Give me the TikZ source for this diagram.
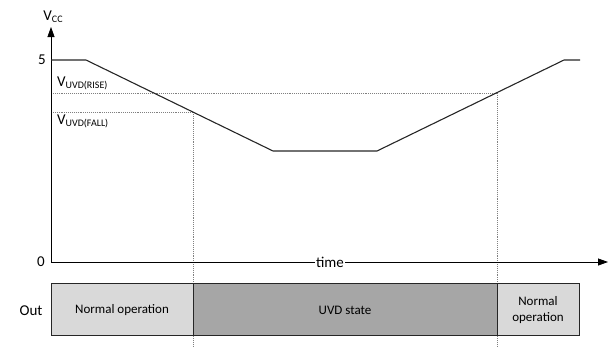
\documentclass[tikz,border=0pt]{standalone}
\usepackage{fontspec}
\setmainfont{Carlito}
\usetikzlibrary{arrows.meta}
\definecolor{lightbox}{HTML}{D9D9D9}
\definecolor{darkbox}{HTML}{A6A6A6}
\definecolor{guide}{HTML}{808080}
\begin{document}
\begin{tikzpicture}[x=1pt,y=-1pt,
		guideline/.style={guide,densely dotted,line width=0.9pt},
		outbox/.style={draw=black!85,line width=0.8pt},
		axis/.style={line width=0.8pt,-{Triangle[length=10pt,width=7pt]}}]
			\useasboundingbox (0,0) rectangle (611,346);
			
			% threshold guides
			\draw[guideline] (51,93) -- (497,93);
			\draw[guideline] (51,112) -- (193,112);
			\draw[guideline] (193,112) -- (193,346);
			\draw[guideline] (497,93) -- (497,346);
			
			% axes
			\draw[axis] (51,262) -- (51,27);
			\draw[axis] (51,262) -- (608,262);
			\node[fill=white,inner sep=1pt,font=\fontsize{15}{15}\selectfont] (time) at (330,262) {time};
			\node[anchor=south,inner sep=1pt] (vcc) at (53,24) {\fontsize{15}{15}\selectfont V\fontsize{10}{10}\selectfont\raisebox{-2pt}{CC}};
			\node[font=\fontsize{15}{15}\selectfont] (five) at (42,60) {5};
			\node[font=\fontsize{15}{15}\selectfont] (zero) at (41,262) {0};
			\node[anchor=south west,inner sep=1pt] (rise) at (56,91) {\fontsize{15}{15}\selectfont V\fontsize{10}{10}\selectfont\raisebox{-2pt}{UVD(RISE)}};
			\node[anchor=north west,inner sep=1pt] (fall) at (56,114) {\fontsize{15}{15}\selectfont V\fontsize{10}{10}\selectfont\raisebox{-2pt}{UVD(FALL)}};
			
			% supply voltage
			\draw[line width=1.1pt,black!85] (51,60) -- (86,60) -- (273,151) -- (377,151) -- (564,60) -- (580,60);
			
			% output state
			\node[font=\fontsize{15}{15}\selectfont] (out) at (31,311) {Out};
			\draw[outbox,fill=lightbox] (51,283) rectangle (193,335);
			\draw[outbox,fill=darkbox] (193,283) rectangle (497,335);
			\draw[outbox,fill=lightbox] (497,283) rectangle (579,335);
			\node[font=\fontsize{13}{13}\selectfont] (norm1) at (122,310) {Normal operation};
			\node[font=\fontsize{13}{13}\selectfont] (uvd) at (345,310) {UVD state};
			\node[font=\fontsize{13}{16}\selectfont,align=center] (norm2) at (538,310) {Normal\\operation};
			
		\end{tikzpicture}
\end{document}
